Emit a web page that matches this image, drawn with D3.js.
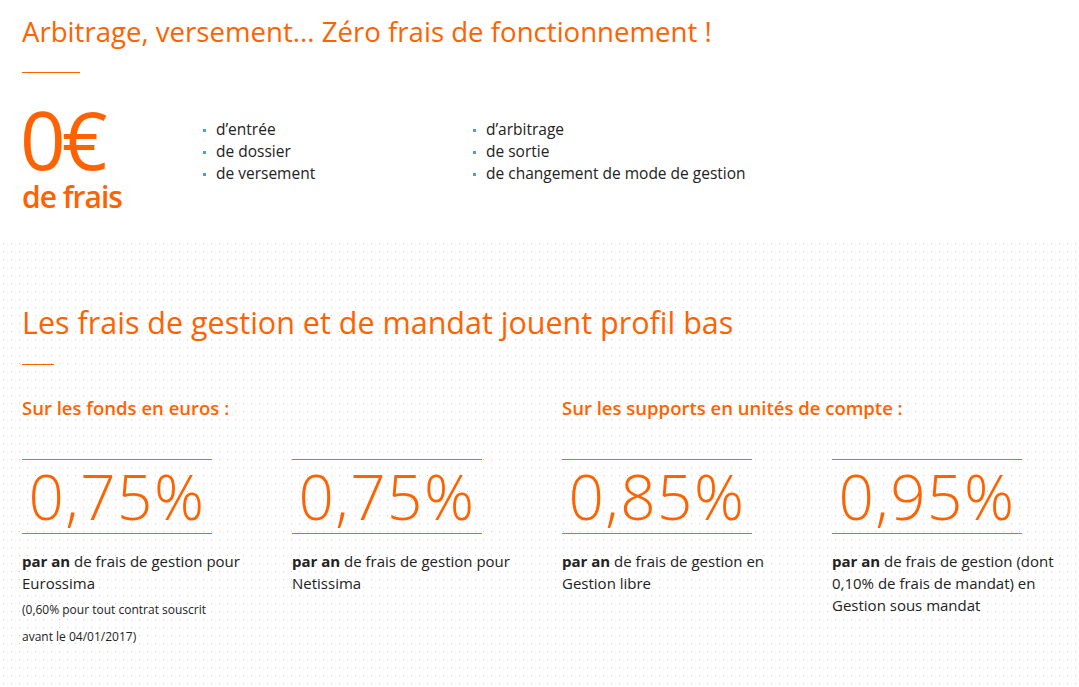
<!DOCTYPE html><html><head><meta charset="utf-8">
<script src="https://cdn.jsdelivr.net/npm/d3@7"></script>
<style>body{margin:0;background:#fff}svg{display:block}text{font-family:"Open Sans",sans-serif}</style></head><body>
<script>
const title1 = "Arbitrage, versement... Zéro frais de fonctionnement !";
const title2 = "Les frais de gestion et de mandat jouent profil bas";
const feesCol1 = ["d’entrée","de dossier","de versement"];
const feesCol2 = ["d’arbitrage","de sortie","de changement de mode de gestion"];
const groupLabels = ["Sur les fonds en euros :","Sur les supports en unités de compte :"];
const rates = ["0,75%","0,75%","0,85%","0,95%"];
const descBold = ["par an","par an","par an","par an"];
const descLines = [
 ["de frais de gestion pour","Eurossima"],
 ["de frais de gestion pour","Netissima"],
 ["de frais de gestion en","Gestion libre"],
 ["de frais de gestion (dont","0,10% de frais de mandat) en","Gestion sous mandat"]];
const notes = [["(0,60% pour tout contrat souscrit","avant le 04/01/2017)"],[],[],[]];

const O="#FF6200", W=1079, H=687;
const svg=d3.select("body").append("svg").attr("width",W).attr("height",H);
const pat=svg.append("defs").append("pattern").attr("id","dots").attr("width",8).attr("height",8).attr("patternUnits","userSpaceOnUse");
pat.append("rect").attr("x",3).attr("y",3).attr("width",1).attr("height",1).attr("fill","#cfcfcf");
svg.append("rect").attr("x",0).attr("y",238).attr("width",W).attr("height",H-238).attr("fill","url(#dots)");

svg.append("text").attr("x",22).attr("y",42).attr("fill",O).attr("font-size",27.6).text(title1);
svg.append("line").attr("x1",22).attr("x2",80).attr("y1",72.5).attr("y2",72.5).attr("stroke",O);
svg.append("text").attr("x",20).attr("y",170).attr("fill",O).attr("font-size",80).attr("letter-spacing",-4).text("0€");
svg.append("text").attr("x",22).attr("y",208).attr("fill",O).attr("font-size",30).attr("font-weight",600).attr("letter-spacing",-1).text("de frais");
[[feesCol1,203],[feesCol2,473]].forEach(([arr,x])=>{
 const y=d3.scaleLinear().domain([0,1]).range([135,157]);
 arr.forEach((t,i)=>{
  svg.append("rect").attr("x",x).attr("y",y(i)-6).attr("width",3).attr("height",3).attr("fill","#4a9fd8");
  svg.append("text").attr("x",x+13).attr("y",y(i)).attr("font-size",15.5).attr("fill","#222").text(t);
 });
});

svg.append("text").attr("x",22).attr("y",334).attr("fill",O).attr("font-size",30.5).text(title2);
svg.append("line").attr("x1",22).attr("x2",54).attr("y1",364.5).attr("y2",364.5).attr("stroke",O);
const gx=[22,562];
groupLabels.forEach((t,i)=>svg.append("text").attr("x",gx[i]).attr("y",415).attr("fill",O).attr("font-size",18.5).attr("font-weight",600).text(t));

const xs=d3.scaleLinear().domain([0,3]).range([22,832]);
rates.forEach((r,i)=>{
 const x=xs(i);
 [459.5,533.5].forEach(yy=>svg.append("line").attr("x1",x).attr("x2",x+190).attr("y1",yy).attr("y2",yy).attr("stroke",O));
 svg.append("text").attr("x",x+95).attr("y",520).attr("text-anchor","middle").attr("fill",O).attr("font-size",62).attr("font-weight",300).attr("letter-spacing",1.5).text(r);
 descLines[i].forEach((l,j)=>{
  const t=svg.append("text").attr("x",x).attr("y",567+j*22).attr("font-size",15).attr("fill","#222");
  if(j===0){t.append("tspan").attr("font-weight",700).text(descBold[i]+" ");}
  t.append("tspan").text(l);
 });
 notes[i].forEach((l,j)=>svg.append("text").attr("x",x).attr("y",614+j*27).attr("font-size",12).attr("fill","#222").text(l));
});
</script></body></html>
